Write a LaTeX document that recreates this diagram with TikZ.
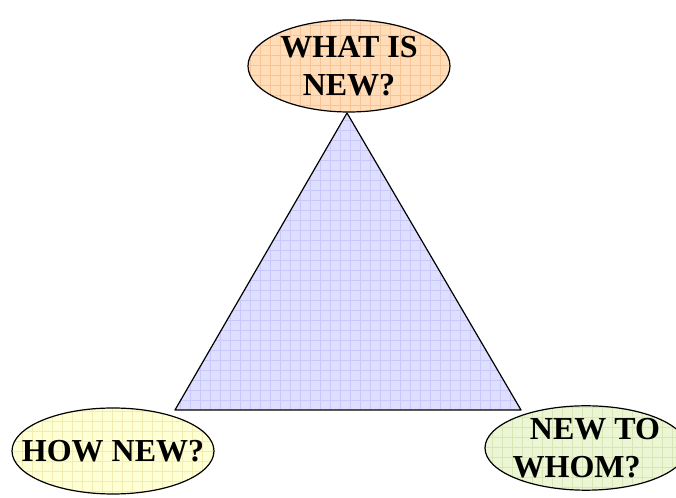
\documentclass[tikz,border=0pt]{standalone}
\usepackage{fontspec}
\setmainfont{Liberation Serif}
\usetikzlibrary{shapes.geometric, positioning, calc}
\definecolor{topfill}{RGB}{255,221,184}
\definecolor{topgrid}{RGB}{248,196,150}
\definecolor{leftfill}{RGB}{255,255,212}
\definecolor{leftgrid}{RGB}{240,236,180}
\definecolor{rightfill}{RGB}{236,246,212}
\definecolor{rightgrid}{RGB}{214,230,180}
\definecolor{trifill}{RGB}{222,222,255}
\definecolor{trigrid}{RGB}{200,200,250}

\begin{document}
\begin{tikzpicture}[
    x=0.75pt, y=-0.75pt,
    bubble/.style={ellipse, draw=black, line width=0.9pt, fill=#1fill,
                   minimum width=151.5pt, minimum height=68pt,
                   inner xsep=-20pt, inner ysep=0pt,
                   align=center, font=\fontsize{24}{28.5}\selectfont\bfseries,
                   path picture={\draw[#1grid, line width=0.4pt, step=7.5pt]
                     (path picture bounding box.south west) grid
                     (path picture bounding box.north east);}}
]
    \useasboundingbox (0,0) rectangle (676,498);
    % triangle corners
    \coordinate (apex) at (347,113);
    \coordinate (baseL) at (175,410);
    \coordinate (baseR) at (521,410);
    \begin{scope}
        \clip (apex) -- (baseL) -- (baseR) -- cycle;
        \fill[trifill] (baseL |- apex) rectangle (baseR);
        \draw[trigrid, line width=0.4pt, step=7.5pt] (170,110) grid (525,415);
    \end{scope}
    \draw[line width=0.9pt, line join=round] (apex) -- (baseL) -- (baseR) -- cycle;
    % the three questions
    \node[bubble=top, minimum height=69pt] (what) at (349,66) {WHAT IS\\NEW?};
    \node[bubble=left, minimum height=64.5pt] (how) at (113,451) {HOW NEW?};
    \node[bubble=right, minimum height=63pt] (whom) at (586,448)
        {\hspace*{13.5pt}NEW TO\\WHOM?\hspace*{14pt}};
\end{tikzpicture}
\end{document}
